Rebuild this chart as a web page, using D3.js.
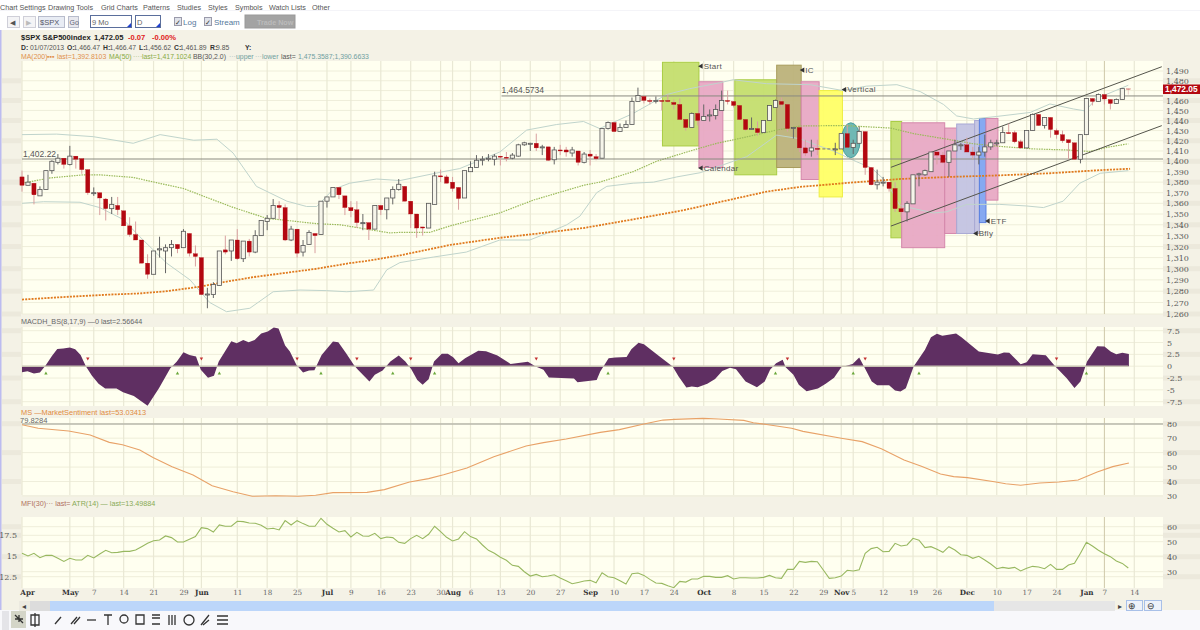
<!DOCTYPE html>
<html><head><meta charset="utf-8">
<script src="https://cdnjs.cloudflare.com/ajax/libs/d3/7.8.5/d3.min.js"></script>
<style>
html,body{margin:0;padding:0;background:#fff;width:1200px;height:630px;overflow:hidden}
svg{display:block}
text{font-family:"Liberation Sans",Arial,sans-serif;font-size:8px;fill:#555}
</style></head><body>
<svg id="c" width="1200" height="630"></svg>
<script>
// ---------- Price data (one entry per session; nulls = market closed) ----------
const openP=[1385,1377,1379,1367,1373,1391,1399,1403,1397,1405,1402.5,1392,1369.5,1370,1364,1355,1358,1353,1339,1331,1326,1305,1295,1317,1316,1319,1322,1319,1332,1313.5,1310,1277,1277,1285,1317,1316,1326,1309,1325,1315,1330,1343,1346,1358,1356,1326,1336,1315,1322,1332,1331,1362,1366,1375,1367,1356,1354,1342,1342,1336,1358,1354,1365,1373,
1376,1362,1350,1338,1337,1359,1386,1385,1380,1375,1365,1390,1394,1402,1402.5,1402,1405,1404,1403,1405,1416,1417.5,1417.5,1413.5,1414,1401.5,1411,1411,1408,1410,1399,1407,1404.5,1403,1432,1438,1429,1433,1436,1459,1464,1460,1459.5,1460,1460,1458,1456,1441,1433,1447,1440,1445,1445,1450,1460,1459,1455,1441,1432,1432,1428,1440,1453,1459,1456,1433,
1433,1413,1410,1412.5,null,null,1412,1412,1427,1413.5,1417.5,1429,1394,1377.5,1380,1380,1374,1355,1352,1359.5,1387,1387,1390,1409,1406,1399,1410,1416,1416,1409,1406,1409,1414,1418,1418,1428,1428,1419,1413,1430,1446,1435,1443,1430,1426,1421,1418,1402,1426,1462,1459,1466,1461,1457,1461,1472];
const highP=[1391,1387,1379,1376,1391,1401,1407,1403,1415,1405,1402.5,1392,1375,1370,1365,1366,1366,1353,1347,1343,1326,1313,1316,1329,1322,1326,1322,1336,1332,1321,1310,1283,1288,1316,1330,1326,1336,1325,1327,1335,1344,1349,1364,1362,1359,1339,1336,1326,1335,1332,1362,1366,1375,1375,1367,1362,1362,1350,1342,1358,1358,1365,1376,1383,
1376,1362,1350,1338,1360,1390,1392,1387,1385,1375,1391,1400,1406,1405,1407,1407,1405,1409,1408,1417,1419,1418,1427,1416,1414,1414,1416,1414,1414,1410,1409,1411,1407,1432,1439,1438,1437,1440,1463,1473,1464,1462,1464,1460,1466,1461,1462,1441,1448,1447,1456,1451,1456,1470,1470,1459,1455,1441,1443,1439,1440,1455,1461,1463,1456,1433,
1433,1421,1421,1421,null,null,1418,1427,1436,1421,1434,1429,1394,1392,1385,1380,1380,1360,1362,1387,1389,1392,1409,1409,1409,1410,1421,1418,1423,1414,1414,1426,1421,1421,1434,1437,1430,1421,1430,1447,1446,1443,1443,1432,1430,1421,1418,1426,1462,1462,1467,1466,1461,1462,1472,1472];
const lowP=[1371,1377,1359,1367,1373,1388,1397,1393,1396,1393,1388,1368,1367,1349,1344,1350,1349,1339,1329,1326,1305,1291,1295,1310,1296,1311,1314,1319,1311,1302,1277,1265,1274,1285,1313,1307,1308,1306,1311,1314,1330,1335,1346,1345,1325,1325,1310,1311,1322,1314,1331,1356,1366,1364,1349,1347,1337,1335,1326,1336,1349,1345,1359,1372,
1362,1337,1328,1330,1337,1359,1380,1379,1371,1354,1365,1390,1394,1396,1400,1396,1396,1400,1402,1404.5,1415,1410,1410,1406,1400.5,1397,1406,1404.5,1404.5,1396,1398,1396,1401,1403,1431,1429,1429,1433,1436,1459,1457,1456,1457,1450,1458,1451,1441,1430,1433,1435,1440,1439,1441,1450,1456,1453,1441,1430,1431,1425,1428,1440,1453,1453,1429,1422,
1409,1405,1404.5,1406,null,null,1406,1412,1413.5,1407,1417.5,1387,1377,1373,1376,1371,1352,1347,1343,1359.5,1376,1386,1390,1397,1398,1385,1410,1411,1409,1402,1397,1404.5,1411,1415,1418,1427,1417.5,1412,1413,1430,1435,1432,1423,1422,1418,1402,1402,1398,1426,1455,1459,1456,1451,1456.5,1461,1466];
const closeP=[1377,1380,1368,1373,1391,1400,1403,1397,1405,1402,1392,1370,1370,1365,1355,1359,1354,1339,1331,1326,1305,1295,1316,1318,1319,1322,1318,1334,1314,1311,1277,1277.5,1286,1316,1315,1326,1309,1325,1315,1330,1344,1346,1358,1356,1326,1336,1314,1321,1333,1330,1362,1366,1375,1368,1356,1353,1342,1342,1336,1358,1354,1365,1373,1378,
1362,1350,1337,1337,1360,1386,1385,1379,1374,1364.5,1391,1394,1401,1402,1403,1405,1404.5,1403.5,1406,1416,1418,1417.5,1413,1414,1401,1411,1410.5,1409,1411,1399,1407,1405,1402.5,1432,1438,1429,1433,1436,1459,1465,1460,1459,1460,1459.5,1459.5,1456,1441,1433,1447,1440,1444,1445.5,1451,1460,1459.5,1455,1441,1431,1432,1428,1440,1455,1460,1456,1432,1433,
1413,1408,1413,1412,null,null,1412,1427,1413.5,1417.5,1429,1394,1377.5,1380,1380,1374,1355,1352,1360,1387,1388,1391,1409,1406,1399,1410,1416,1416,1409,1406,1409,1414,1418,1418,1428,1427.5,1419,1413,1430,1446,1435,1443,1431,1426,1420,1418,1402,1426,1462,1459,1466,1461.5,1457,1461,1472,1471.9];

// ---------- Overlays on the price panel: session index / value ----------
const ma200Idx=[0,7.5,14.7,19.7,24.2,29.8,33.7,38.7,43.7,49.3,54.8,57.6,63.2,71.6,79.9,87.2,93.9,102.2,110.6,118.9,124.5,130.1,138.5,146.8,155.2,163.5,171.9,180.3,185.3];
const ma200Val=[1272.6,1275,1277,1278,1280,1284,1288,1292.5,1296,1300,1305,1307,1312,1321.5,1328,1332.5,1337,1345,1353.5,1364,1371,1375.5,1379.5,1383,1385,1386.5,1388.5,1391.5,1392.8];
const ma50Idx=[0,4.7,10.3,13,18.6,22.5,27,30.9,35.4,40.9,46,49.3,53.2,57.6,61.5,63.2,68.2,71.6,79.9,85.5,93.9,96.6,102.2,106.1,112.3,116.2,120.6,126.2,130.1,137.3,145.2,149.1,155.2,159.1,163.5,169.1,174.7,178.6,181.4,185];
const ma50Val=[1379,1384,1387,1387,1384.5,1379.5,1374,1365.5,1356,1346,1343,1341,1340,1336,1332.5,1333,1333,1339,1351,1363,1377,1380,1390,1400,1411,1417.5,1423,1430.5,1434.5,1435,1432.5,1427,1421,1417,1414.5,1412,1411,1409.5,1413.5,1417];
const bbUpIdx=[0,5.8,11.9,18.6,23.1,28.7,32.6,35.3,39.2,44.3,47.6,49.3,52,54.8,59.3,63.2,70.4,73.2,79.9,84.4,89.4,93.9,96.6,102.2,107.8,111.7,116.7,118.9,124.5,131.8,137.3,141.2,146.3,150.2,154.1,156.3,159.1,163,168.6,171.9,175.8,177.8,179.7,185];
const bbUpVal=[1426,1426.5,1424,1417.5,1426,1420.5,1421.5,1408,1376,1362,1357,1357,1373,1379,1383,1381.5,1390,1393,1409,1430.5,1436,1439,1432,1447,1466,1472,1478,1481,1477,1476,1470,1474.5,1476,1469,1456,1444.5,1441.5,1444,1448,1456.5,1451.5,1449.5,1462,1475.4];
const bbLoIdx=[0,3.6,9.7,13,16.9,19.7,24.2,28.1,31.4,34.2,38.1,42,46.5,50.9,54.3,58.8,61,63.2,68.8,74.3,79.9,84.9,87.7,91.1,93.3,96.1,97.8,102.2,105.6,109.5,113.4,121.2,126.2,130.1,132.3,135.7,139.6,142.1,144.6,146.8,152.4,154.6,158,163.5,168,170.8,174.1,176.9,180.3,185];
const bbLoVal=[1360,1361.5,1361,1356,1345,1329,1305,1290,1270,1262,1265,1279.5,1281,1280.5,1279.5,1281,1299,1305.5,1310.5,1315,1326,1326,1332,1340,1348,1370,1376,1379,1380,1385,1389,1404.5,1425.5,1422,1417,1410,1399.5,1393.5,1380,1358,1351,1352,1359,1359,1357.5,1356,1362,1379,1388.5,1391];

// ---------- MACD histogram ----------
const macdIdx=[0,.9,2,3,4,5,5.9,6.9,8,8.9,9.8,10.7,11.7,12.8,13.9,15.8,16.9,18.7,21,22.9,24.8,25.9,27,28,29.1,29.9,31.1,32.1,32.9,35,35.9,37,37.9,38.9,40,41.1,42.1,42.9,44,44.8,45.9,47,48,48.9,50.1,52,52.9,54.2,55.5,56.1,58.1,59,60.3,61.6,63,64.1,65.1,66.1,67,68,68.9,70.2,71.2,72.1,73,74.1,76.3,77.6,79.5,81.7,84.6,85.9,87.2,88.1,92.3,92.9,96.1,96.7,98.1,99.2,101.1,101.9,103.1,104,106.3,108.8,109.8,111.1,112,113,114.6,115.9,117.1,118.4,119.4,121,122.9,124.2,125.1,126.1,127.2,127.7,129,129.9,131.2,133.1,134.4,135.8,137,138.9,140,140.8,142.1,143,145,146,146.9,147.8,149.1,151,152,153,153.9,156.2,157.1,160,163.2,164.2,165.1,167,168,169,171.2,172.8,174.7,176,177,178.1,179.8,181,182.1,183,184,185.1];
const macdVal=[-1.27,-1.06,-1.55,-1.34,.28,2.18,3.66,3.73,3.94,3.59,2.39,-.07,-2.04,-3.73,-4.72,-4.72,-5.49,-6.27,-8.38,-4.65,-.42,.99,2.96,2.39,2.04,-.77,-2.46,-2.04,.99,5.28,4.86,5.56,5.07,5.56,6.9,7.32,8.17,7.96,4.37,3.1,.28,-1.34,-.92,-.85,2.39,5.21,5.07,2.75,.28,-.63,-3.24,-1.83,-.92,.99,2.25,.99,-.63,-2.89,-3.94,-2.75,.99,2.61,2.61,1.9,.63,1.69,3.24,3.17,2.25,.49,.92,-.07,-.77,-2.39,-2.61,-3.38,-2.89,-1.13,1.69,1.83,1.97,3.59,4.93,4.65,2.39,-.07,-2.18,-4.51,-4.3,-4.44,-3.73,-2.68,-.99,-.35,-.63,-3.24,-4.44,-3.24,-.77,.63,1.34,-.21,-1.83,-3.94,-5.28,-4.72,-3.73,-2.46,-.21,.49,1.83,-.07,-3.24,-4.01,-4.01,-5.14,-5.35,-4.65,-.07,3.45,6.13,6.83,6.41,6.9,6.13,3.1,2.46,2.89,2.82,.42,.85,2.54,2.32,-.07,-2.54,-4.58,-3.24,.99,4.23,4.15,3.03,2.54,2.82,2.57];
const macdSell=[11,30,46,56,65,86,109,128,141,173];
const macdBuy=[4,26,33,50,62,69,98,126,139,150,178];

// ---------- Market sentiment ----------
const msIdx=[0,2.7,7.8,11.4,14.6,16.8,19.7,21.9,25.1,28.6,31.8,35.3,38.5,42.4,46.2,49.1,52,57.7,60.6,64.8,68,70.5,74.4,78.9,84.3,87.2,91,96.7,99.9,104,107.2,109.1,113.9,116.5,120.7,122.3,124.5,128.7,130.6,137,140.5,143.7,147.5,150.4,153.6,155.8,158.1,162.6,164.5,167,170.2,173.4,176.6,179.8,182.4,185.1];
const msVal=[79.3,76.8,74.9,72.2,67.1,65.5,61.8,56.7,50.3,44.5,37.1,33,29.8,30.2,29.8,30.5,32.3,32.5,34.4,39.7,42,44.7,49.4,57.2,64.6,66.9,69.4,74,75.9,79.8,82.5,83,83.7,83.2,82.3,80.7,79.5,76.8,74.7,69.9,67.6,62.7,54.9,50.5,45.2,43.4,42.7,39.9,38.5,37.4,39,39.7,41.1,46.6,50.3,52.8];

// ---------- ATR(14), one value per session ----------
const atrVal=[15.32,15,15.32,14.8,15.08,15.08,14.72,14.35,14.72,14.52,14.52,15.08,14.76,15.24,15.69,15.4,15.44,15.56,15.56,15.73,16.13,16.53,16.85,16.94,17.42,17.22,16.69,16.69,17.02,17.34,18.43,18.31,17.9,18.75,18.59,18.59,19.19,19.15,18.99,18.95,18.71,18.27,18.35,18.15,19.27,18.75,19.27,18.91,18.59,18.59,19.56,18.83,18.35,17.9,18.06,17.3,17.86,17.42,17.38,17.74,17.1,17.3,17.22,16.65,16.53,17.1,17.5,17.1,17.62,18.59,17.94,17.26,16.81,17.06,17.94,17.34,17.06,16.33,15.69,15.32,14.84,14.48,13.87,13.75,13.1,12.58,12.78,12.5,12.58,12.74,12.34,12.02,11.65,11.81,11.98,12.06,11.77,12.98,
12.5,12.38,12.02,11.61,12.86,12.94,12.66,12.18,11.73,11.69,11.41,11.17,11.94,11.85,12.22,12.22,12.54,12.54,12.42,12.42,12.62,12.22,12.38,12.38,12.34,12.34,12.42,12.66,12.38,12.3,13.39,13.39,14.35,14.23,14.35,14.31,13.31,12.3,12.38,12.58,13.27,13.19,13.35,15.32,15.89,16.05,15.52,15.56,16.53,16.21,16.33,17.14,16.9,16.01,16.13,15.81,15.44,16.13,15.73,15.16,15.08,14.72,14.96,14.52,14.03,13.47,13.63,13.51,13.63,13.19,13.51,13.75,13.67,13.47,13.99,13.39,13.39,13.91,14.11,15.32,16.65,16.21,15.69,15.28,14.92,14.4,14.11,13.55];

// ---------- Axis ticks ----------
const priceTicks=d3.range(1260,1491,10);
const priceLabelTicks=priceTicks.filter(d=>d!==1470); // 1,470 sits under the last-price flag
const macdTicks=[7.5,5,2.5,0,-2.5,-5,-7.5];
const msTicks=[80,70,60,50,40,30];
const mfiTicks=[60,50,40,30];
const atrTicks=[17.5,15,12.5];
const dateIdx=[0,8,12,17,22,27,30,36,41,46,51,55,60,65,70,72,75,80,85,90,95,99,104,109,114,119,124,129,134,137,139,144,149,153,158,163,168,173,178,181,186];
const dateLabels=["Apr","May","7","14","21","29","Jun","11","18","25","Jul","9","16","23","30","Aug","6","13","20","27","Sep","10","17","24","Oct","8","15","22","29","Nov","5","12","19","26","Dec","10","17","24","Jan","7","14"];
const monthLabels=["Apr","May","Jun","Jul","Aug","Sep","Oct","Nov","Dec","Jan"];

// ---------- Drawn annotation zones ----------
const zoneFrom=[107.1,113.2,119.2,126.2,130.3,133.3,145.3,147.1,154.3,156.3,159.3,160.1,161.2];
const zoneTo=[113.2,117.2,126.2,130.3,133.3,137.2,147.1,154.3,156.3,159.3,160.1,161.2,163.2];
const zoneTop=[1499,1479,1481,1496,1479,1470,1439,1437.7,1432.5,1436.5,1440,1442,1442];
const zoneBot=[1414.9,1394,1387,1394,1382.5,1366,1328,1319,1332,1332,1332,1342,1363];
const zoneFill=["#c4de6e","#e8a9c4","#c4de6e","#bcb27a","#e8a9c4","#ffff66","#c4de6e","#e8a9c4","#e8a9c4","#c3c3e2","#c3c3e2","#80a4f0","#e8a9c4"];
const zoneEdge=["#a9cc44","#d487ac","#a9cc44","#a89c5c","#d487ac","#eeee44","#a9cc44","#d487ac","#d487ac","#a9a9d4","#a9a9d4","#5a80e0","#d487ac"];
const noteText=["Start","Calendar","IC","Vertical","ETF","Bfly"];
const noteIdx=[113.4,113.4,130.4,137.4,161.4,159.4];
const notePrice=[1495,1393.5,1491,1471,1343.5,1332];
const chanIdx=[145.3,190.6];
const chanUpper=[1394.2,1494.4];
const chanLower=[1338.8,1434.9];
const hLevels=[1402.22,1464.5734];

// ---------- Scales ----------
const svg=d3.select("#c");
const x=d3.scaleLinear().domain([0,185]).range([22,22+185*5.98]);
const PX0=22,PX1=1163;
const yP=d3.scaleLog().domain([1260,1490]).range([314,71]);
const yM=d3.scaleLinear().domain([-7.5,7.5]).range([401.7,330.7]);
const yS=d3.scaleLinear().domain([30,80]).range([496,423.7]);
const yF=d3.scaleLinear().domain([30,60]).range([571.7,526.7]);
const yA=d3.scaleLinear().domain([12.5,17.5]).range([576.7,535.3]);
const panels=[{t:61,b:314},{t:327,b:406},{t:418,b:495},{t:517,b:588}];

// ---------- Backgrounds ----------
const rect=(p,x0,y0,w,h,f)=>p.append("rect").attr("x",x0).attr("y",y0).attr("width",w).attr("height",h).attr("fill",f);
rect(svg,0,0,1200,630,"#fff");
rect(svg,0,10,1200,1,"#f4f4f8");
rect(svg,0,30,1200,580,"#f4f2e6");
rect(svg,0,610,1200,20,"#f8f8fb");
rect(svg,0,30,1.5,580,"#bcbcf0");
function stripes(ticks,scale){
  const s=ticks.map(scale);
  s.forEach((v,i)=>{ if(i%2==0){ rect(svg,2,v-2.5,19,5,"#ece9dc"); rect(svg,1163,v-2.5,37,5,"#ece9dc"); } });
}
stripes(priceTicks,yP);stripes(macdTicks,yM);stripes(msTicks,yS);stripes(atrTicks,yA);stripes(mfiTicks,yF);
panels.forEach(p=>rect(svg,PX0,p.t,PX1-PX0,p.b-p.t,"#fffff0"));

// grid
function grid(p,ys,c="#efeeda"){
  const g=svg.append("g");
  g.selectAll("line.h").data(ys).join("line").attr("class","h").attr("x1",PX0).attr("x2",PX1).attr("y1",d=>d).attr("y2",d=>d).attr("stroke",c).attr("stroke-width",1);
  g.selectAll("line.v").data(dateIdx).join("line").attr("class","v").attr("x1",d=>x(d)).attr("x2",d=>x(d)).attr("y1",p.t).attr("y2",p.b)
   .attr("stroke",d=>d===181?"#cfc8a8":"#e9e8d4").attr("stroke-width",d=>d===181?1:1.2);
}
grid(panels[0],priceTicks.map(yP));
grid(panels[1],macdTicks.map(yM));
grid(panels[2],msTicks.map(yS));
grid(panels[3],[...mfiTicks.map(yF),...atrTicks.map(yA)]);

// annotation zones
const zones=svg.append("g");
zones.selectAll("rect").data(zoneFrom).join("rect")
 .attr("x",(d,i)=>x(d)).attr("width",(d,i)=>x(zoneTo[i])-x(d))
 .attr("y",(d,i)=>yP(zoneTop[i])).attr("height",(d,i)=>yP(zoneBot[i])-yP(zoneTop[i]))
 .attr("fill",(d,i)=>zoneFill[i]).attr("stroke",(d,i)=>zoneEdge[i]).attr("stroke-width",1).attr("fill-opacity",.95);
svg.append("ellipse").attr("cx",x(138.6)).attr("cy",yP(1420.5)).attr("rx",x(140.15)-x(138.6)).attr("ry",(yP(1403.8)-yP(1438))/2)
 .attr("fill","#6fb8b4").attr("stroke","#4aa0a0").attr("stroke-width",1);

// overlay lines
const sparse=(ix,v,sc)=>d3.line().x(d=>x(d)).y((d,i)=>sc(v[i])).curve(d3.curveLinear)(ix);
const pathL=(d,c,w,dash,op=1)=>svg.append("path").attr("d",d).attr("fill","none").attr("stroke",c).attr("stroke-width",w).attr("stroke-dasharray",dash||null).attr("opacity",op);
pathL(sparse(bbUpIdx,bbUpVal,yP),"#c0d4cc",1);
pathL(sparse(bbLoIdx,bbLoVal,yP),"#c0d4cc",1);
pathL(sparse(ma50Idx,ma50Val,yP),"#9aba5a",1.2,"1.5,1");
pathL(sparse(ma200Idx,ma200Val,yP),"#e07a1e",1.8,"2,1.2");

// horizontal levels and channels
svg.append("line").attr("x1",PX0).attr("x2",PX1).attr("y1",yP(hLevels[0])).attr("y2",yP(hLevels[0])).attr("stroke","#8a8a80").attr("stroke-width",1);
svg.append("line").attr("x1",501.5).attr("x2",PX1).attr("y1",yP(hLevels[1])).attr("y2",yP(hLevels[1])).attr("stroke","#8a8a80").attr("stroke-width",1);
[chanUpper,chanLower].forEach(c=>svg.append("line").attr("x1",x(chanIdx[0])).attr("x2",x(chanIdx[1])).attr("y1",yP(c[0])).attr("y2",yP(c[1])).attr("stroke","#55554c").attr("stroke-width",1));
svg.append("line").attr("x1",x(133)).attr("x2",x(136)).attr("y1",yP(1412)).attr("y2",yP(1412)).attr("stroke","#666").attr("stroke-width",.9).attr("stroke-dasharray","3,2");

// candles
const idx=d3.range(openP.length).filter(i=>openP[i]!=null);
const cg=svg.append("g");
cg.selectAll("line").data(idx).join("line")
 .attr("x1",i=>x(i)).attr("x2",i=>x(i)).attr("y1",i=>yP(highP[i])).attr("y2",i=>yP(lowP[i]))
 .attr("stroke",i=>closeP[i]<openP[i]?"#d9a0a0":"#666").attr("stroke-width",1);
cg.selectAll("rect").data(idx).join("rect")
 .attr("x",i=>x(i)-2.1).attr("width",4.2)
 .attr("y",i=>yP(Math.max(openP[i],closeP[i])))
 .attr("height",i=>Math.max(1,Math.abs(yP(openP[i])-yP(closeP[i]))))
 .attr("fill",i=>closeP[i]<openP[i]?"#b30710":"#f6f5ea")
 .attr("stroke",i=>closeP[i]<openP[i]?"#b30710":"#555")
 .attr("stroke-width",i=>closeP[i]<openP[i]?.3:.8);
cg.selectAll("line,rect").filter(i=>i===185).attr("opacity",.45);

// note labels
svg.append("g").selectAll("path").data(noteIdx).join("path")
 .attr("d",d3.symbol(d3.symbolTriangle,12))
 .attr("transform",(d,i)=>`translate(${x(d)+1},${yP(notePrice[i])}) rotate(-90)`).attr("fill","#333");
svg.append("g").selectAll("text").data(noteText).join("text")
 .attr("x",(d,i)=>x(noteIdx[i])+3.5).attr("y",(d,i)=>yP(notePrice[i])+2.8).text(d=>d).style("fill","#555").style("letter-spacing",".3px");

// level labels
const tx=(s,xx,yy,o={})=>{const t=svg.append("text").attr("x",xx).attr("y",yy).text(s);
  if(o.c)t.style("fill",o.c); if(o.w)t.style("font-weight",o.w); if(o.s)t.style("font-size",o.s+"px"); if(o.a)t.attr("text-anchor",o.a); return t;};
tx(d3.format(",.2f")(hLevels[0]),23,yP(hLevels[0])-2.5,{s:8.5,c:"#555"});
tx("1,464.5734",501.5,yP(hLevels[1])-2.5,{s:8.5,c:"#555"});

// MACD
const zeroM=yM(0);
svg.append("path").attr("d",d3.area().x(d=>x(d)).y0(zeroM).y1((d,i)=>yM(macdVal[i]))(macdIdx)).attr("fill","#5f2f62");
svg.append("line").attr("x1",x(0)).attr("x2",x(185)).attr("y1",zeroM).attr("y2",zeroM).attr("stroke","#c9c4b4").attr("stroke-width",1.5);
svg.append("g").selectAll("path").data(macdSell).join("path").attr("d",d3.symbol(d3.symbolTriangle,5))
 .attr("transform",d=>`translate(${x(d)},358.5) rotate(180)`).attr("fill","#c43030");
svg.append("g").selectAll("path").data(macdBuy).join("path").attr("d",d3.symbol(d3.symbolTriangle,5))
 .attr("transform",d=>`translate(${x(d)},373.5)`).attr("fill","#6aa83a");

// MS
svg.append("line").attr("x1",PX0).attr("x2",PX1).attr("y1",yS(79.8284)).attr("y2",yS(79.8284)).attr("stroke","#b8b8ac").attr("stroke-width",1.5);
pathL(sparse(msIdx,msVal,yS),"#e8a268",1.1);
tx("79.8284",20,423,{c:"#666",s:7.6});

// ATR
pathL(d3.line().x((d,i)=>x(i)).y(d=>yA(d))(atrVal),"#98b860",1.1);

// Right / left axes via d3 axes
function axis(gen,tx0,fmt){
  const g=svg.append("g").attr("transform",`translate(${tx0},0)`).call(gen.tickSize(0).tickPadding(3).tickFormat(fmt));
  g.select(".domain").remove();
  g.selectAll("text").style("font-size","8px").style("font-family","'DejaVu Serif','Liberation Serif',serif").style("fill","#5a5a5a");
  return g;
}
const comma=d3.format(",");
axis(d3.axisRight(yP).tickValues(priceLabelTicks),1163,d=>comma(d));
axis(d3.axisRight(yM).tickValues(macdTicks),1164,d=>String(d));
axis(d3.axisRight(yS).tickValues(msTicks),1164,d=>String(d));
axis(d3.axisRight(yF).tickValues(mfiTicks),1164,d=>String(d));
axis(d3.axisLeft(yA).tickValues(atrTicks),20,d=>String(d));

// last price flag
rect(svg,1163,84.5,37,9.5,"#b30710");
tx("1,472.05",1165,92.2,{c:"#fff",w:"bold",s:8.4});

// date axis
const dax=svg.append("g").attr("transform","translate(0,588)").call(d3.axisBottom(x).tickValues(dateIdx).tickFormat((d,i)=>dateLabels[i]).tickSize(0).tickPadding(2));
dax.select(".domain").remove();
dax.selectAll("text").style("font-size","7.2px").style("font-family","'DejaVu Serif','Liberation Serif',serif")
 .style("font-weight",(d,i)=>monthLabels.includes(dateLabels[i])?"bold":"normal").style("fill",(d,i)=>monthLabels.includes(dateLabels[i])?"#333":"#666");
dax.selectAll("text").filter((d,i)=>i===0).attr("dx",5);

// ---------- Chrome: menu ----------
const menu=[["Chart Settings",0],["Drawing Tools",48],["Grid Charts",101],["Patterns",143],["Studies",177],["Styles",208],["Symbols",235],["Watch Lists",269],["Other",312]];
menu.forEach(m=>tx(m[0],m[1],10,{c:"#555",s:7.2}));

// toolbar
const box=(x0,y0,w,h,f,s,sw=1)=>svg.append("rect").attr("x",x0).attr("y",y0).attr("width",w).attr("height",h).attr("fill",f).attr("stroke",s).attr("stroke-width",sw);
box(7.5,16.5,12,11,"#f4f4f6","#cfcfd8");box(23.5,16.5,12,11,"#f4f4f6","#cfcfd8");
tx("◀",10,25,{c:"#555",s:7});tx("▶",26,25,{c:"#bbb",s:7});
box(38.5,16.5,26,11,"#e8ecf4","#b8bccc");tx("$SPX",40,25,{c:"#556",s:7.5});
box(68.5,16.5,10,11,"#e8e8ee","#b8bccc");tx("Go",69.5,25,{c:"#667",s:7});
box(90.5,15.5,41,12,"#fff","#5a6e9c");tx("9 Mo",92,25,{c:"#666",s:7.5});
box(135.5,15.5,25,12,"#fff","#5a6e9c");tx("D",137,25,{c:"#666",s:7.5});
svg.append("path").attr("d","M127,27 L131,27 L131,23Z").attr("fill","#2040d0");
svg.append("path").attr("d","M156,27 L160,27 L160,23Z").attr("fill","#2040d0");
box(174.5,17.5,7,8,"#dfe2ea","#9a9aaa");tx("✓",175,25,{c:"#333",s:7});tx("Log",183,25,{c:"#55799c",s:8});
box(204.5,17.5,7,8,"#dfe2ea","#9a9aaa");tx("✓",205,25,{c:"#333",s:7});tx("Stream",214,25,{c:"#55799c",s:8});
box(245,15,50,13,"#a3a3a3","#999");tx("Trade Now",257,25,{c:"#bbb",s:7.2,w:"bold"});

// header lines
tx("$SPX S&P500index",21,40,{c:"#222",w:"bold",s:7.6});
tx("1,472.05",94,40,{c:"#222",w:"bold",s:7.6});
tx("-0.07",128,40,{c:"#e02020",w:"bold",s:7.6});
tx("-0.00%",152,40,{c:"#e02020",w:"bold",s:7.6});
tx("D:",21,50,{c:"#333",w:"bold",s:6.8});tx("01/07/2013",30,50,{c:"#555",s:6.8});
tx("O:",67,50,{c:"#333",w:"bold",s:6.8});tx("1,466.47",73.5,50,{c:"#555",s:6.8});
tx("H:",103,50,{c:"#333",w:"bold",s:6.8});tx("1,466.47",109.5,50,{c:"#555",s:6.8});
tx("L:",139,50,{c:"#333",w:"bold",s:6.8});tx("1,456.62",144.5,50,{c:"#555",s:6.8});
tx("C:",174,50,{c:"#333",w:"bold",s:6.8});tx("1,461.89",180,50,{c:"#555",s:6.8});
tx("R:",210,50,{c:"#333",w:"bold",s:6.8});tx("9.85",216,50,{c:"#555",s:6.8});
tx("Y:",245,50,{c:"#333",w:"bold",s:6.8});
const l3=[["MA(200)",21,"#e0904c"],["▪▪▪",47,"#e0904c"],["last=1,392.8103",57,"#e0904c"],["MA(50)",109,"#88aa44"],["····",133,"#a8c080"],["last=1,417.1024",142,"#88aa44"],["BB(30,2.0)",193,"#555"],["···",229,"#a8c0c0"],["upper",236,"#6fa0a0"],["···",255,"#a8c0c0"],["lower",262,"#6fa0a0"],["last=",281,"#555"],["1,475.3587;1,390.6633",298,"#6fa0a0"]];
l3.forEach(a=>tx(a[0],a[1],59,{c:a[2],s:6.9}));

// panel titles
tx("MACDH_BS(8,17,9) —0 last=2.56644",21,323.5,{c:"#666",s:7.2});
tx("MS —MarketSentiment last=53.03413",21,414.5,{c:"#e08a40",s:7.4});
tx("MFI(30)",21,506,{c:"#b07060",s:7.2});tx("··· last=",46,506,{c:"#b07060",s:7.2});
tx("ATR(14) — last=13.49884",72,506,{c:"#88aa55",s:7.2});

// scrollbar
rect(svg,19,601,11,10,"#eceae0");tx("◂",22,609,{c:"#444",s:8});
rect(svg,30,601,20,10,"#dcdcdc");
rect(svg,50,601,944,10,"#bcd6fa");
rect(svg,994,601,121,10,"#e6e6e6");
tx("▸",1118,609,{c:"#444",s:8});
box(1126.5,600.5,16,10,"#eef2fa","#a8c0e8");box(1144.5,600.5,17,10,"#eef2fa","#a8c0e8");
svg.append("text").attr("x",1128).attr("y",609).text("⊕").style("font-size","9px").style("fill","#333");
svg.append("text").attr("x",1147).attr("y",609).text("⊖").style("font-size","9px").style("fill","#333");

// bottom tool strip
rect(svg,2,611,7,19,"#e4e4e8");
rect(svg,11,611,15,17,"#d4d5c8");
const ic=svg.append("g").attr("stroke","#333").attr("fill","none").attr("stroke-width",1.3);
const ip=d=>ic.append("path").attr("d",d);
ip("M15,615 L23,623 M19,615 L19,622 M15,619 L23,619");
ip("M31,615 h8 v10 h-8z M35,613 v14");
ip("M55,624 L61,617");
ip("M71,624 L77,617 M74,624 L80,617");
ip("M87,620 H96");
ip("M104,615 H112 M108,615 V625");
ic.append("circle").attr("cx",124).attr("cy",619).attr("r",4);
ip("M136,615 h8 v9 h-8z");
ip("M152,615 h8 M152,618 h8 M152,624 h8");
ip("M169,615 v10 M172,615 v10 M175,615 v10");
ic.append("circle").attr("cx",189).attr("cy",620).attr("r",5);
ip("M201,625 L209,615 M203,625 L209,620");
ip("M217,616 h11 M217,620 h11 M217,624 h11");
</script>
</body></html>
